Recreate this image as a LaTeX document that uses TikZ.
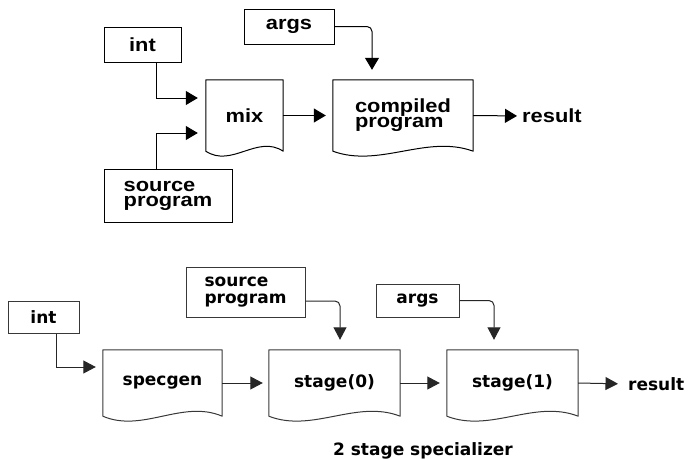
\documentclass[tikz,border=0pt]{standalone}
\usepackage{fontspec}
\newfontfamily\topfont[FakeStretch=1.15]{Liberation Sans}
\newfontfamily\botfont{DejaVu Sans}
\usetikzlibrary{arrows.meta,calc}
\newcommand\docout[2]{\draw[#2] (#1.south west) -- (#1.north west) -- (#1.north east) -- (#1.south east)
  .. controls ($(#1.south east)!0.3333!(#1.south west)+(0,-17)$) and ($(#1.south west)!0.3333!(#1.south east)+(0,17)$) .. (#1.south west) -- cycle;}
\begin{document}
\begin{tikzpicture}[x=1pt,y=-1pt,
  topbox/.style={draw=black,line width=1pt,inner sep=0pt,align=left,font={\topfont\bfseries\fontsize{19pt}{15pt}\selectfont}},
  topdoc/.style={inner sep=0pt,align=left,font={\topfont\bfseries\fontsize{19pt}{15pt}\selectfont}},
  toptext/.style={inner sep=0pt,font={\topfont\bfseries\fontsize{19pt}{15pt}\selectfont}},
  botbox/.style={draw=black!78,line width=1pt,inner sep=0pt,align=left,font={\botfont\bfseries\fontsize{17pt}{17pt}\selectfont}},
  botdoc/.style={inner sep=0pt,align=left,font={\botfont\bfseries\fontsize{17pt}{17pt}\selectfont}},
  bottext/.style={inner sep=0pt,font={\botfont\bfseries\fontsize{17pt}{17pt}\selectfont}},
  topline/.style={draw=black,line width=1pt,line join=round},
  botline/.style={draw=black!78,line width=1pt,line join=round},
  arr/.style={draw=black,line width=1pt,-{Triangle[length=12pt,width=14pt]}},
  barr/.style={draw=black!85,line width=1pt,-{Triangle[length=12.5pt,width=13pt]}}]
\useasboundingbox (0,0) rectangle (688,458);
% ---------- top diagram ----------
\node[topbox,minimum width=77pt,minimum height=35pt] (int) at (142.5,44.5) {int};
\node[topbox,minimum width=90pt,minimum height=35pt] (args) at (289,26.5) {args};
\node[topbox,minimum width=128pt,minimum height=53pt] (src) at (168,195.5) {source\\program};
\node[topdoc,minimum width=77pt,minimum height=71pt] (mix) at (244.5,115.5) {mix};
\docout{mix}{topline}
\node[topdoc,minimum width=140pt,minimum height=71pt] (comp) at (403,115.5) {compiled\\program};
\docout{comp}{topline}
\node[toptext,anchor=west] (res) at (522,116) {result};
\draw[arr] ([xshift=13.5pt]int.south) |- ([xshift=-8pt,yshift=17.5pt]mix.west);
\draw[arr] ([xshift=-12pt]src.north) |- ([xshift=-8pt,yshift=-17.5pt]mix.west);
\draw[arr] (mix.east) -- ([xshift=-7pt]comp.west);
\draw[arr,rounded corners=5pt] (args.east) -| ([xshift=-31pt,yshift=10pt]comp.north);
\draw[arr,shorten >=5pt] (comp.east) -- (res.west);
% ---------- bottom diagram ----------
\node[botbox,minimum width=71pt,minimum height=32pt] (bint) at (43.5,317) {int};
\node[botbox,minimum width=119pt,minimum height=50pt] (bsrc) at (245.5,292) {source\\program};
\node[botbox,minimum width=83pt,minimum height=33pt] (bargs) at (417.5,300.5) {args};
\node[botdoc,minimum width=119pt,minimum height=66pt] (spec) at (162.5,383) {specgen};
\docout{spec}{botline}
\node[botdoc,minimum width=131pt,minimum height=66pt] (s0) at (334.5,383) {stage(0)};
\docout{s0}{botline}
\node[botdoc,minimum width=131pt,minimum height=66pt] (s1) at (512.5,383) {stage(1)};
\docout{s1}{botline}
\node[bottext,anchor=west] (bres) at (628,384) {result};
\node[bottext,anchor=base] (cap) at (423,455) {2 stage specializer};
\draw[barr] ([xshift=12.5pt]bint.south) |- ([xshift=-7pt,yshift=16pt]spec.west);
\draw[barr] (spec.east) -- ([xshift=-6pt]s0.west);
\draw[barr,rounded corners=5pt] ([yshift=-9pt]bsrc.east) -| ([xshift=5.5pt,yshift=10pt]s0.north);
\draw[barr,rounded corners=5pt] (bargs.east) -| ([xshift=-18.5pt,yshift=10pt]s1.north);
\draw[barr] (s0.east) -- ([xshift=-7pt]s1.west);
\draw[barr,shorten >=10pt] (s1.east) -- (bres.west);
\end{tikzpicture}
\end{document}
